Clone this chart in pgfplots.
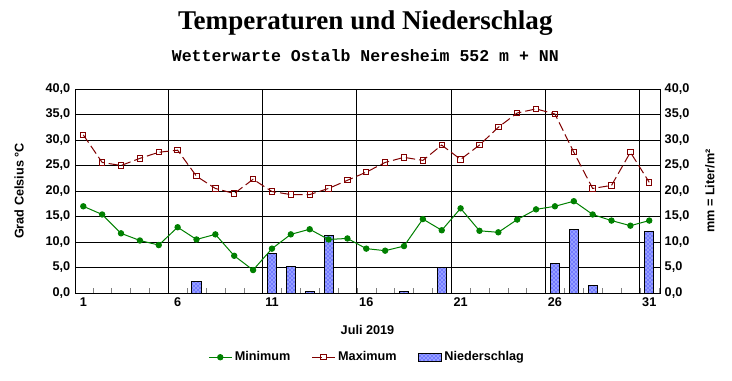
\documentclass[border=0pt]{standalone}
\usepackage{pgfplots}
\pgfplotsset{compat=1.18}
\usepackage{fontspec}
\setmainfont{Liberation Sans}
\newfontfamily\titlefont{Liberation Serif}
\newfontfamily\subfont{Liberation Mono}
\usetikzlibrary{patterns}
\definecolor{mingreen}{RGB}{0,128,0}
\definecolor{maxred}{RGB}{128,0,0}
\definecolor{rainblue}{RGB}{150,160,255}
\pgfplotstableread{
day tmin tmax
1 17.0 31.0
2 15.4 25.6
3 11.7 25.0
4 10.3 26.4
5 9.4 27.6
6 12.9 28.0
7 10.5 22.9
8 11.5 20.5
9 7.3 19.5
10 4.5 22.3
11 8.7 19.9
12 11.5 19.3
13 12.5 19.3
14 10.5 20.5
15 10.7 22.1
16 8.7 23.7
17 8.3 25.6
18 9.2 26.6
19 14.5 26.0
20 12.3 29.0
21 16.6 26.2
22 12.2 29.0
23 11.9 32.5
24 14.4 35.3
25 16.4 36.1
26 17.0 35.1
27 18.0 27.6
28 15.4 20.5
29 14.2 21.1
30 13.2 27.6
31 14.2 21.7
}\temps
\pgfplotstableread{
day rain
7 2.2
11 7.7
12 5.1
13 0.3
14 11.3
18 0.3
20 5.0
26 5.8
27 12.4
28 1.4
31 12.1
}\rain
\begin{document}
\begin{tikzpicture}
\path[use as bounding box] (0,0) rectangle (549pt,285pt);
\node[font=\titlefont\bfseries\fontsize{20.3}{22}\selectfont] at (274pt,268pt) {Temperaturen und Niederschlag};
\node[font=\subfont\bfseries\fontsize{12.4}{14}\selectfont] at (274pt,243.5pt) {Wetterwarte Ostalb Neresheim 552 m + NN};
\begin{axis}[
  at={(56.25pt,65.25pt)}, anchor=south west,
  scale only axis, width=438.75pt, height=153pt,
  xmin=0.56, xmax=31.57, ymin=0, ymax=40,
  font=\bfseries\fontsize{9.5}{11}\selectfont,
  /pgf/number format/.cd, fixed, fixed zerofill, precision=1, use comma, assume math mode=true,
  /pgfplots/.cd,
  xtick={1,6,11,16,21,26,31},
  xticklabels={1,6,11,16,21,26,31},
  major x tick style={draw=none},
  minor xtick={1.5,2.5,...,31.5},
  minor tick length=4pt,
  xtick align=inside, xtick pos=bottom,
  extra x ticks={5.5,10.5,15.5,20.5,25.5,30.5},
  extra x tick labels={},
  extra x tick style={grid=major, major grid style={black, line width=0.75pt}, major tick length=0pt},
  ytick={0,5,...,40},
  ymajorgrids, major grid style={black, line width=0.75pt},
  ytick pos=left, major y tick style={draw=none},
  ylabel={Grad Celsius °C},
  ylabel style={yshift=9.5pt},
  xlabel={Juli 2019},
  xlabel style={at={(axis description cs:0.5,-0.18)}, anchor=center},
  axis line style={black, line width=0.75pt},
  legend columns=3,
  legend style={at={(axis description cs:0.5,-0.315)}, anchor=center, draw=none, fill=none,
    font=\bfseries\fontsize{9.5}{11}\selectfont,
    /tikz/every even column/.append style={column sep=14pt}},
  legend cell align=left,
]
\addplot[ybar, bar width=0.48, bar shift=0pt, draw=black, line width=0.75pt, fill=rainblue,
  postaction={pattern=crosshatch dots, pattern color=blue}, forget plot] table[x=day, y=rain] {\rain};
\addplot[mingreen, line width=0.75pt, mark=*, mark size=2pt, mark options={fill=mingreen, draw=mingreen}] table[x=day, y=tmin] {\temps};
\addlegendentry{Minimum}
\addplot[maxred, line width=0.75pt, dash pattern=on 7pt off 3pt, mark=square, mark size=2pt, mark options={solid, fill=white, draw=maxred}] table[x=day, y=tmax] {\temps};
\addlegendentry{Maximum}
\addlegendimage{area legend, draw=black, line width=0.75pt, fill=rainblue, postaction={pattern=crosshatch dots, pattern color=blue}}
\addlegendentry{Niederschlag}
\end{axis}
\begin{axis}[
  at={(56.25pt,65.25pt)}, anchor=south west,
  scale only axis, width=438.75pt, height=153pt,
  xmin=0.56, xmax=31.57, ymin=0, ymax=40,
  axis x line=none, axis y line*=right,
  font=\bfseries\fontsize{9.5}{11}\selectfont,
  /pgf/number format/.cd, fixed, fixed zerofill, precision=1, use comma, assume math mode=true,
  /pgfplots/.cd,
  ytick={0,5,...,40},
  major y tick style={draw=none},
  axis line style={black, line width=0.75pt},
  ylabel={mm = Liter/m²},
  ylabel style={yshift=-5pt},
]
\end{axis}
\end{tikzpicture}
\end{document}
